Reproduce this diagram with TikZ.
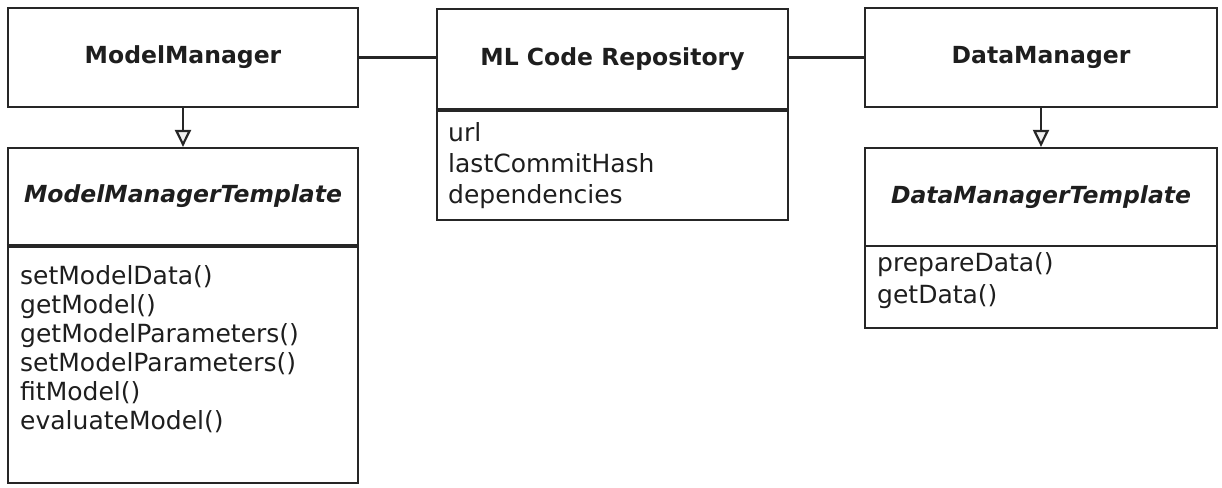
\documentclass[tikz,border=0pt]{standalone}
\usepackage{fontspec}
\setmainfont{DejaVu Sans}
\usetikzlibrary{arrows.meta}
\definecolor{ln}{HTML}{262626}
\definecolor{tx}{HTML}{1E1E1E}
\begin{document}
\begin{tikzpicture}[x=1pt,y=-1pt,
  box/.style={draw=ln, line width=2.2pt, inner sep=0pt, text=tx, rectangle},
  title/.style={font=\fontsize{23.5}{28}\selectfont\bfseries},
  ititle/.style={font=\fontsize{23.5}{28}\selectfont\bfseries\itshape},
  members/.style={anchor=base west, align=left, inner sep=0pt, text=tx},
  inherit/.style={draw=ln, line width=2.2pt, -{Triangle[length=17pt,width=16pt,fill=black!6]}},
  assoc/.style={draw=ln, line width=2.2pt},
  septhick/.style={draw=ln, line width=4.5pt}]
\useasboundingbox (0,0) rectangle (1222,487);

% ModelManager
\node[box, title, minimum width=350pt, minimum height=99pt] (mm) at (183,57.5) {ModelManager};
% ModelManagerTemplate
\node[box, ititle, minimum width=350pt, minimum height=97pt] (mmth) at (183,196.5) {ModelManagerTemplate};
\node[box, minimum width=350pt, minimum height=238pt] (mmtb) at (183,364) {};
\draw[septhick] (mmth.south west) -- (mmth.south east);
% anchor = baseline of the last line
\node[members, font=\fontsize{25}{29}\selectfont] (mmtm) at (20,429) {setModelData()\\getModel()\\getModelParameters()\\setModelParameters()\\fitModel()\\evaluateModel()};

% ML Code Repository
\node[box, title, minimum width=351pt, minimum height=100pt] (repoh) at (612.5,59) {ML Code Repository};
\node[box, minimum width=351pt, minimum height=111pt] (repob) at (612.5,164.5) {};
\draw[septhick] (repoh.south west) -- (repoh.south east);
\node[members, font=\fontsize{25}{31}\selectfont] (repom) at (448,203) {url\\lastCommitHash\\dependencies};

% DataManager
\node[box, title, minimum width=352pt, minimum height=99pt] (dm) at (1041,57.5) {DataManager};
% DataManagerTemplate
\node[box, ititle, minimum width=352pt, minimum height=98pt] (dmth) at (1041,197) {DataManagerTemplate};
\node[box, minimum width=352pt, minimum height=82pt] (dmtb) at (1041,287) {};
\node[members, font=\fontsize{25}{32}\selectfont] (dmtm) at (877,303) {prepareData()\\getData()};

% connectors
\draw[inherit] (mm) -- (mmth);
\draw[inherit] (dm) -- (dmth);
\draw[assoc] (mm.east) -- (mm.east -| repoh.west);
\draw[assoc] (repoh.east |- dm.west) -- (dm.west);
\end{tikzpicture}
\end{document}
